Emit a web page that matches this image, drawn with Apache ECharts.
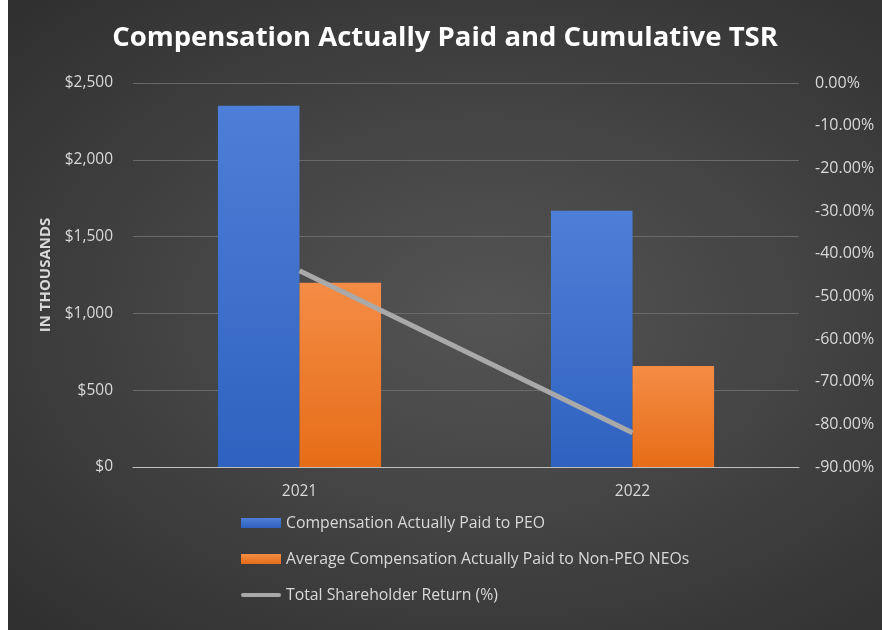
<!DOCTYPE html>
<html>
<head>
<meta charset="utf-8">
<script src="https://cdn.jsdelivr.net/npm/echarts@6/dist/echarts.min.js"></script>
<style>
  html, body { margin: 0; padding: 0; background: #ffffff; }
  #chart {
    position: absolute; left: 8px; top: 0; width: 874px; height: 630px;
    background: radial-gradient(ellipse at 55% 50%, #545454 0%, #444444 45%, #2f2f2f 100%);
  }
</style>
</head>
<body>
<div id="chart"></div>
<script>
const categories = ['2021', '2022'];
const peoPaid = [2352, 1669];
const nonPeoPaid = [1200, 658];
const tsr = [-44.0, -82.0];
const leftTicks = { min: 0, max: 2500, interval: 500 };
const rightTicks = { min: -90, max: 0, interval: 10 };

const FONT = '"Open Sans", "Noto Sans", sans-serif';
const chart = echarts.init(document.getElementById('chart'));
chart.setOption({
  backgroundColor: 'transparent',
  textStyle: { fontFamily: FONT },
  title: {
    text: 'Compensation Actually Paid and Cumulative TSR',
    left: 'center', top: 19,
    textStyle: { color: '#ffffff', fontSize: 27.5, fontWeight: 'bold', fontFamily: FONT }
  },
  grid: { left: 125, right: 83, top: 83, bottom: 163, containLabel: false },
  legend: {
    orient: 'vertical', left: 228, top: 510,
    itemWidth: 40, itemHeight: 10, itemGap: 20,
    textStyle: { color: '#d9d9d9', fontSize: 15.8, fontFamily: FONT },
    data: [
      { name: 'Compensation Actually Paid to PEO', icon: 'rect' },
      { name: 'Average Compensation Actually Paid to Non-PEO NEOs', icon: 'rect' },
      { name: 'Total Shareholder Return (%)',
        icon: 'path://M0,0 M2,3 L38,3 A2,2 0 0 1 38,7 L2,7 A2,2 0 0 1 2,3 Z M40,10' }
    ]
  },
  xAxis: {
    type: 'category', data: categories,
    axisLine: { lineStyle: { color: '#bfbfbf', width: 1 } },
    axisTick: { show: false },
    axisLabel: { color: '#d9d9d9', fontSize: 15.5, margin: 17, fontFamily: FONT }
  },
  yAxis: [
    {
      type: 'value', min: leftTicks.min, max: leftTicks.max, interval: leftTicks.interval,
      name: 'IN THOUSANDS', nameLocation: 'middle', nameRotate: 90, nameGap: 80,
      nameTextStyle: { color: '#d9d9d9', fontSize: 15, fontWeight: 'bold', fontFamily: FONT },
      axisLine: { show: false }, axisTick: { show: false },
      splitLine: { lineStyle: { color: '#6a6a6a', width: 1 } },
      axisLabel: { color: '#d9d9d9', fontSize: 15.5, margin: 20, fontFamily: FONT,
        formatter: v => '$' + v.toLocaleString('en-US') }
    },
    {
      type: 'value', min: rightTicks.min, max: rightTicks.max, interval: rightTicks.interval,
      position: 'right',
      axisLine: { show: false }, axisTick: { show: false }, splitLine: { show: false },
      axisLabel: { color: '#d9d9d9', fontSize: 16, margin: 16, fontFamily: FONT,
        formatter: v => v.toFixed(2) + '%' }
    }
  ],
  series: [
    {
      name: 'Compensation Actually Paid to PEO', type: 'bar', data: peoPaid,
      barGap: '0%', barCategoryGap: '51%', yAxisIndex: 0,
      itemStyle: { color: new echarts.graphic.LinearGradient(0, 0, 0, 1, [
        { offset: 0, color: '#4d7fd8' }, { offset: 1, color: '#2f62c0' }]) }
    },
    {
      name: 'Average Compensation Actually Paid to Non-PEO NEOs', type: 'bar', data: nonPeoPaid,
      yAxisIndex: 0,
      itemStyle: { color: new echarts.graphic.LinearGradient(0, 0, 0, 1, [
        { offset: 0, color: '#f48c45' }, { offset: 1, color: '#e66d17' }]) }
    },
    {
      name: 'Total Shareholder Return (%)', type: 'line', data: tsr, yAxisIndex: 1,
      symbol: 'none', color: '#a9a9a9',
      lineStyle: { color: '#a9a9a9', width: 5 }, z: 5
    }
  ]
});
</script>
</body>
</html>
